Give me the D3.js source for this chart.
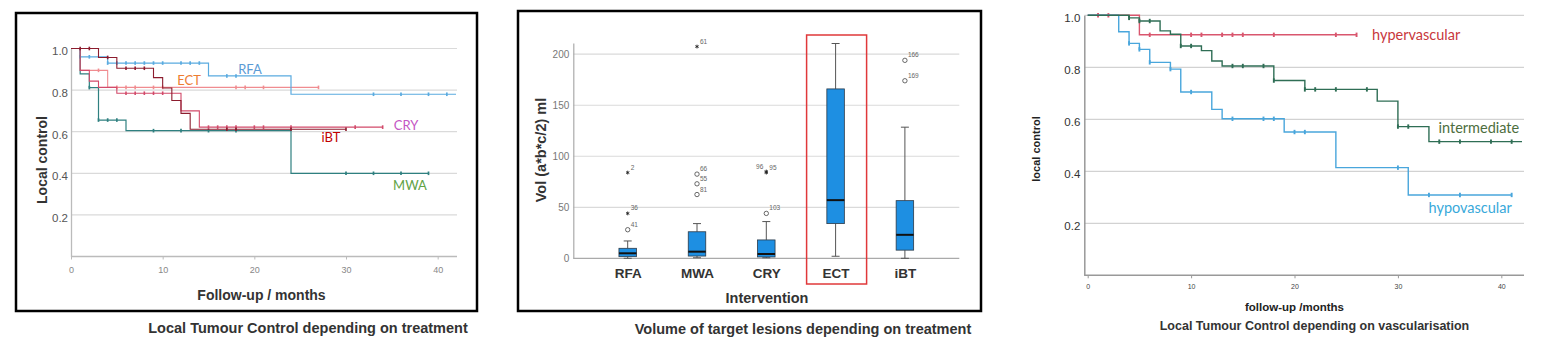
<!DOCTYPE html>
<html>
<head>
<meta charset="utf-8">
<script src="https://cdn.jsdelivr.net/npm/d3@7"></script>
<style>
body { margin: 0; background: #fff; }
svg { display: block; }
</style>
</head>
<body>
<svg id="fig" width="1559" height="354"></svg>
<script>
// ---- data, panel 1 : local control by treatment (Kaplan-Meier)
var rfaSteps = [[0,1],[1,0.96],[4,0.93],[15,0.868],[24,0.78]];
var rfaCensor = [1,2,4,5,6,7,8,9,10,12,13,14,17,18,33,36,39,41];
var rfaEnd = 42;
var ectSteps = [[0,1],[1,0.895],[4,0.813]];
var ectCensor = [3,5,6,7,9,10,18,19,21,27];
var ectEnd = 27;
var crySteps = [[0,1],[1,0.895],[2,0.843],[3,0.813],[5,0.785],[12,0.70],[14,0.622]];
var cryCensor = [6,7,8,9,10,15,16,17,18,20,21,24,31,34];
var cryEnd = 34;
var ibtSteps = [[0,1],[3,0.957],[5,0.905],[9,0.86],[10,0.81],[11,0.75],[12,0.688],[13,0.612]];
var ibtCensor = [1,2,4,6,7,8,17,18,24,30];
var ibtEnd = 30;
var mwaSteps = [[0,1],[1,0.878],[2,0.812],[3,0.656],[6,0.605],[24,0.40]];
var mwaCensor = [2,3,4,5,9,12,15,18,30,33,36,39];
var mwaEnd = 39;

// ---- data, panel 2 : lesion volume box plot
var boxCats = ["RFA","MWA","CRY","ECT","iBT"];
var whiskLo = [0, 0.5, 0.5, 2, 0];
var boxQ1 = [1.6, 2.2, 1.3, 34, 8];
var boxMed = [4.9, 6.5, 4.2, 57, 23];
var boxQ3 = [9.8, 26, 18, 166, 56.5];
var whiskHi = [17, 34, 36, 210.5, 128.5];
var outCat = ["RFA","RFA","RFA","MWA","MWA","MWA","MWA","CRY","CRY","CRY","iBT","iBT"];
var outVal = [84, 44, 28, 207.5, 82.5, 73, 62.5, 85, 84, 44, 194, 174];
var outKind = ["star","star","circle","star","circle","circle","circle","star","star","circle","circle","circle"];
var outLabel = ["2","36","41","61","66","55","81","96","95","103","166","169"];
var volTicks = [0,50,100,150,200];

// ---- data, panel 3 : local control by vascularisation
var hyperSteps = [[0,1],[5,0.925]];
var hyperCensor = [1,2,6,10,11,13,14,15,18,24,26];
var hyperEnd = 26;
var interSteps = [[0,1],[4,0.99],[5,0.978],[7,0.94],[8,0.927],[9,0.882],[11,0.864],[12,0.824],[13,0.805],[18,0.749],[21,0.715],[28,0.67],[30,0.572],[33,0.514]];
var interCensor = [4,5,6,9,10,14,15,17,18,21,22,24,27,30,31,34,36,39,41];
var interEnd = 42;
var hypoSteps = [[0,1],[3,0.937],[4,0.892],[5,0.869],[6,0.819],[8,0.793],[9,0.705],[12,0.638],[13,0.602],[19,0.551],[24,0.414],[31,0.309]];
var hypoCensor = [4,5,6,8,10,14,17,18,20,21,30,33,36,41];
var hypoEnd = 41;

var monthTicks = [0,10,20,30,40];
var lcTicks = [0.2,0.4,0.6,0.8,1.0];

var svg = d3.select("#fig");
svg.append("rect").attr("width",1559).attr("height",354).attr("fill","#fff");

function survAt(steps, t) {
    var s = steps[0][1];
    steps.forEach(function(d) { if (d[0] <= t) s = d[1]; });
    return s;
}

function drawKM(g, x, y, steps, censor, end, color, lw, tickH) {
    var pts = steps.concat([[end, steps[steps.length - 1][1]]]);
    var line = d3.line()
        .x(d => x(d[0]))
        .y(d => y(d[1]))
        .curve(d3.curveStepAfter);
    g.append("path")
        .attr("d", line(pts))
        .attr("fill", "none")
        .attr("stroke", color)
        .attr("stroke-width", lw);
    g.append("g").selectAll("line")
        .data(censor)
        .enter().append("line")
        .attr("x1", t => x(t)).attr("x2", t => x(t))
        .attr("y1", t => y(survAt(steps, t)) - tickH)
        .attr("y2", t => y(survAt(steps, t)) + tickH)
        .attr("stroke", color)
        .attr("stroke-width", lw + 0.5);
}

// ================= panel 1 =================
var g1 = svg.append("g");
g1.append("rect")
    .attr("x", 16).attr("y", 13).attr("width", 461).attr("height", 298)
    .attr("fill", "none").attr("stroke", "#000").attr("stroke-width", 2.5);

var x1 = d3.scaleLinear().domain([0, 42]).range([71, 456]);
var y1 = d3.scaleLinear().domain([0, 1]).range([256.5, 48.5]);

g1.append("g").selectAll("line")
    .data(lcTicks)
    .enter().append("line")
    .attr("x1", x1(0)).attr("x2", x1(42) + 1)
    .attr("y1", d => y1(d)).attr("y2", d => y1(d))
    .attr("stroke", "#dadada").attr("stroke-width", 1.2);

var ax1 = g1.append("g")
    .attr("transform", "translate(0," + y1(0) + ")")
    .call(d3.axisBottom(x1).tickValues(monthTicks).tickSize(3).tickPadding(7).tickSizeOuter(0));
ax1.select(".domain").remove();
ax1.selectAll("line").attr("stroke", "#bbb");
ax1.selectAll("text").attr("font-family", "Liberation Sans, Arial, sans-serif").attr("font-size", 9).attr("fill", "#888");
g1.append("line").attr("x1", x1(0)).attr("x2", x1(42) + 1).attr("y1", y1(0)).attr("y2", y1(0))
    .attr("stroke", "#bbb").attr("stroke-width", 1.3);

var ay1 = g1.append("g")
    .attr("transform", "translate(" + x1(0) + ",0)")
    .call(d3.axisLeft(y1).tickValues(lcTicks).tickFormat(d3.format(".1f")).tickSize(0).tickPadding(3));
ay1.select(".domain").attr("stroke", "#bbb").attr("stroke-width", 1.3);
ay1.selectAll("text").attr("font-family", "Liberation Sans, Arial, sans-serif").attr("font-size", 11.5)
    .attr("fill", "#555").attr("dy", "0.55em");

drawKM(g1, x1, y1, ectSteps, ectCensor, ectEnd, "#f08c90", 1.1, 1.8);
drawKM(g1, x1, y1, rfaSteps, rfaCensor, rfaEnd, "#5aabe0", 1.2, 1.8);
drawKM(g1, x1, y1, mwaSteps, mwaCensor, mwaEnd, "#2f8080", 1.2, 1.8);
drawKM(g1, x1, y1, crySteps, cryCensor, cryEnd, "#d24a6a", 1.1, 1.8);
drawKM(g1, x1, y1, ibtSteps, ibtCensor, ibtEnd, "#8c1c2e", 1.1, 1.8);

var lab1 = [
    {t: "RFA", x: 250, y: 69, c: "#5b9bd5"},
    {t: "ECT", x: 189, y: 80.5, c: "#ed7d31"},
    {t: "CRY", x: 406, y: 125.5, c: "#c455c4"},
    {t: "iBT", x: 331, y: 137, c: "#c00000"},
    {t: "MWA", x: 410, y: 185.5, c: "#5fa345"}
];
g1.append("g").selectAll("text")
    .data(lab1)
    .enter().append("text")
    .attr("x", d => d.x).attr("y", d => d.y).attr("dy", "0.35em")
    .attr("text-anchor", "middle")
    .attr("font-family", "Lato, Open Sans, sans-serif").attr("font-size", 13)
    .attr("fill", d => d.c)
    .text(d => d.t);

g1.append("text")
    .attr("transform", "translate(42,160) rotate(-90)")
    .attr("text-anchor", "middle").attr("dy", "0.35em")
    .attr("font-family", "Liberation Sans, Arial, sans-serif").attr("font-weight", "bold")
    .attr("font-size", 14).attr("fill", "#333")
    .text("Local control");
g1.append("text")
    .attr("x", 261.5).attr("y", 295).attr("dy", "0.35em")
    .attr("text-anchor", "middle")
    .attr("font-family", "Liberation Sans, Arial, sans-serif").attr("font-weight", "bold")
    .attr("font-size", 14).attr("fill", "#333")
    .text("Follow-up / months");
g1.append("text")
    .attr("x", 308).attr("y", 328).attr("dy", "0.35em")
    .attr("text-anchor", "middle")
    .attr("font-family", "Liberation Sans, Arial, sans-serif").attr("font-weight", "bold")
    .attr("font-size", 14.5).attr("fill", "#333")
    .text("Local Tumour Control depending on treatment");

// ================= panel 2 =================
var g2 = svg.append("g");
g2.append("rect")
    .attr("x", 518).attr("y", 11).attr("width", 463).attr("height", 300)
    .attr("fill", "none").attr("stroke", "#000").attr("stroke-width", 2.5);

var x2 = d3.scalePoint().domain(boxCats).range([573.3, 959.3]).padding(0.785);
var y2 = d3.scaleLinear().domain([0, 211]).range([258.3, 43]);
var boxW = 17.5;

g2.append("g").selectAll("line")
    .data(volTicks.slice(1))
    .enter().append("line")
    .attr("x1", 573.3).attr("x2", 959.3)
    .attr("y1", d => y2(d)).attr("y2", d => y2(d))
    .attr("stroke", "#dadada").attr("stroke-width", 1.2);
g2.append("line").attr("x1", 573.3).attr("x2", 959.3).attr("y1", y2(0)).attr("y2", y2(0))
    .attr("stroke", "#aaa").attr("stroke-width", 1.2);

var ay2 = g2.append("g")
    .attr("transform", "translate(573.3,0)")
    .call(d3.axisLeft(y2).tickValues(volTicks).tickSize(0).tickPadding(4));
ay2.select(".domain").attr("stroke", "#aaa").attr("stroke-width", 1.2);
ay2.selectAll("text").attr("font-family", "Liberation Sans, Arial, sans-serif").attr("font-size", 10).attr("fill", "#777");

var ax2 = g2.append("g")
    .attr("transform", "translate(0," + y2(0) + ")")
    .call(d3.axisBottom(x2).tickSize(0).tickPadding(10));
ax2.select(".domain").remove();
ax2.selectAll("text").attr("font-family", "Liberation Sans, Arial, sans-serif").attr("font-weight", "bold")
    .attr("font-size", 13.5).attr("fill", "#333");

var boxes = g2.append("g").selectAll("g")
    .data(boxCats)
    .enter().append("g");
boxes.append("line")
    .attr("x1", d => x2(d)).attr("x2", d => x2(d))
    .attr("y1", (d, i) => y2(whiskHi[i])).attr("y2", (d, i) => y2(boxQ3[i]))
    .attr("stroke", "#555").attr("stroke-width", 1);
boxes.append("line")
    .attr("x1", d => x2(d)).attr("x2", d => x2(d))
    .attr("y1", (d, i) => y2(boxQ1[i])).attr("y2", (d, i) => y2(whiskLo[i]))
    .attr("stroke", "#555").attr("stroke-width", 1);
boxes.append("line")
    .attr("x1", d => x2(d) - 4).attr("x2", d => x2(d) + 4)
    .attr("y1", (d, i) => y2(whiskHi[i])).attr("y2", (d, i) => y2(whiskHi[i]))
    .attr("stroke", "#555").attr("stroke-width", 1);
boxes.append("line")
    .attr("x1", d => x2(d) - 4).attr("x2", d => x2(d) + 4)
    .attr("y1", (d, i) => y2(whiskLo[i])).attr("y2", (d, i) => y2(whiskLo[i]))
    .attr("stroke", "#555").attr("stroke-width", 1);
boxes.append("rect")
    .attr("x", d => x2(d) - boxW / 2).attr("width", boxW)
    .attr("y", (d, i) => y2(boxQ3[i]))
    .attr("height", (d, i) => y2(boxQ1[i]) - y2(boxQ3[i]))
    .attr("fill", "#1e8fe2").attr("stroke", "#2b3a48").attr("stroke-width", 0.8);
boxes.append("line")
    .attr("x1", d => x2(d) - boxW / 2).attr("x2", d => x2(d) + boxW / 2)
    .attr("y1", (d, i) => y2(boxMed[i])).attr("y2", (d, i) => y2(boxMed[i]))
    .attr("stroke", "#111").attr("stroke-width", 2);

var outs = outCat.map(function(c, i) {
    return {c: c, v: outVal[i], k: outKind[i], l: outLabel[i]};
});
var og = g2.append("g");
og.selectAll("circle")
    .data(outs.filter(d => d.k == "circle"))
    .enter().append("circle")
    .attr("cx", d => x2(d.c)).attr("cy", d => y2(d.v)).attr("r", 2.2)
    .attr("fill", "none").attr("stroke", "#444").attr("stroke-width", 0.8);
og.selectAll("path")
    .data(outs.filter(d => d.k == "star"))
    .enter().append("path")
    .attr("transform", d => "translate(" + x2(d.c) + "," + y2(d.v) + ")")
    .attr("d", d3.symbol(d3.symbolAsterisk, 10))
    .attr("stroke", "#222").attr("stroke-width", 0.9).attr("fill", "none");
og.selectAll("text")
    .data(outs)
    .enter().append("text")
    .attr("x", d => d.l == "96" ? x2(d.c) - 3 : x2(d.c) + 3)
    .attr("y", d => d.l == "96" ? y2(d.v) - 3 : y2(d.v) - 3)
    .attr("text-anchor", d => d.l == "96" ? "end" : "start")
    .attr("font-family", "Liberation Sans, Arial, sans-serif").attr("font-size", 6.5)
    .attr("fill", "#666")
    .text(d => d.l);

// highlight around ECT
g2.append("rect")
    .attr("x", x2("ECT") - 29).attr("y", 35).attr("width", 60).attr("height", 249)
    .attr("fill", "none").attr("stroke", "#e0383a").attr("stroke-width", 1.5);

g2.append("text")
    .attr("transform", "translate(541,150) rotate(-90)")
    .attr("text-anchor", "middle").attr("dy", "0.35em")
    .attr("font-family", "Liberation Sans, Arial, sans-serif").attr("font-weight", "bold")
    .attr("font-size", 14.5).attr("fill", "#333")
    .text("Vol (a*b*c/2) ml");
g2.append("text")
    .attr("x", 767).attr("y", 298).attr("dy", "0.35em")
    .attr("text-anchor", "middle")
    .attr("font-family", "Liberation Sans, Arial, sans-serif").attr("font-weight", "bold")
    .attr("font-size", 14.5).attr("fill", "#333")
    .text("Intervention");
g2.append("text")
    .attr("x", 803).attr("y", 329).attr("dy", "0.35em")
    .attr("text-anchor", "middle")
    .attr("font-family", "Liberation Sans, Arial, sans-serif").attr("font-weight", "bold")
    .attr("font-size", 14.5).attr("fill", "#333")
    .text("Volume of target lesions depending on treatment");

// ================= panel 3 =================
var g3 = svg.append("g");
var x3 = d3.scaleLinear().domain([0, 42]).range([1087.7, 1522]);
var y3 = d3.scaleLinear().domain([0, 1]).range([275.3, 15.3]);
var axX3 = 1084.3;

g3.append("g").selectAll("line")
    .data(lcTicks)
    .enter().append("line")
    .attr("x1", axX3).attr("x2", 1524)
    .attr("y1", d => y3(d)).attr("y2", d => y3(d))
    .attr("stroke", "#d2d2d2").attr("stroke-width", 1.3);

var ax3 = g3.append("g")
    .attr("transform", "translate(0," + y3(0) + ")")
    .call(d3.axisBottom(x3).tickValues(monthTicks).tickSize(3).tickPadding(6).tickSizeOuter(0));
ax3.select(".domain").remove();
ax3.selectAll("line").attr("stroke", "#999");
ax3.selectAll("text").attr("font-family", "Liberation Sans, Arial, sans-serif").attr("font-size", 7).attr("fill", "#444");
g3.append("line").attr("x1", axX3).attr("x2", 1524).attr("y1", y3(0)).attr("y2", y3(0))
    .attr("stroke", "#999").attr("stroke-width", 1.5);

var ay3 = g3.append("g")
    .attr("transform", "translate(" + axX3 + ",0)")
    .call(d3.axisLeft(y3).tickValues(lcTicks).tickFormat(d3.format(".1f")).tickSize(0).tickPadding(4));
ay3.select(".domain").attr("stroke", "#999").attr("stroke-width", 1.5);
ay3.selectAll("text").attr("font-family", "Liberation Sans, Arial, sans-serif").attr("font-size", 11.5)
    .attr("fill", "#333").attr("dy", "0.55em");

drawKM(g3, x3, y3, hyperSteps, hyperCensor, hyperEnd, "#d9566e", 1.4, 2.2);
drawKM(g3, x3, y3, hypoSteps, hypoCensor, hypoEnd, "#49a6dc", 1.4, 2.2);
drawKM(g3, x3, y3, interSteps, interCensor, interEnd, "#2f6e55", 1.4, 2.2);

var lab3 = [
    {t: "hypervascular", x: 1372, y: 35, c: "#c8383c"},
    {t: "intermediate", x: 1438.5, y: 127.5, c: "#4d6e3e"},
    {t: "hypovascular", x: 1428.5, y: 207.5, c: "#38a9da"}
];
g3.append("g").selectAll("text")
    .data(lab3)
    .enter().append("text")
    .attr("x", d => d.x).attr("y", d => d.y).attr("dy", "0.35em")
    .attr("font-family", "Lato, Open Sans, sans-serif").attr("font-size", 14.5)
    .attr("fill", d => d.c)
    .text(d => d.t);

g3.append("text")
    .attr("transform", "translate(1036,149) rotate(-90)")
    .attr("text-anchor", "middle").attr("dy", "0.35em")
    .attr("font-family", "Liberation Sans, Arial, sans-serif").attr("font-weight", "bold")
    .attr("font-size", 11).attr("fill", "#222")
    .text("local control");
g3.append("text")
    .attr("x", 1294.5).attr("y", 306.5).attr("dy", "0.35em")
    .attr("text-anchor", "middle")
    .attr("font-family", "Liberation Sans, Arial, sans-serif").attr("font-weight", "bold")
    .attr("font-size", 11.5).attr("fill", "#222")
    .text("follow-up /months");
g3.append("text")
    .attr("x", 1314.5).attr("y", 326).attr("dy", "0.35em")
    .attr("text-anchor", "middle")
    .attr("font-family", "Liberation Sans, Arial, sans-serif").attr("font-weight", "bold")
    .attr("font-size", 12.5).attr("fill", "#333")
    .text("Local Tumour Control depending on vascularisation");
</script>
</body>
</html>
